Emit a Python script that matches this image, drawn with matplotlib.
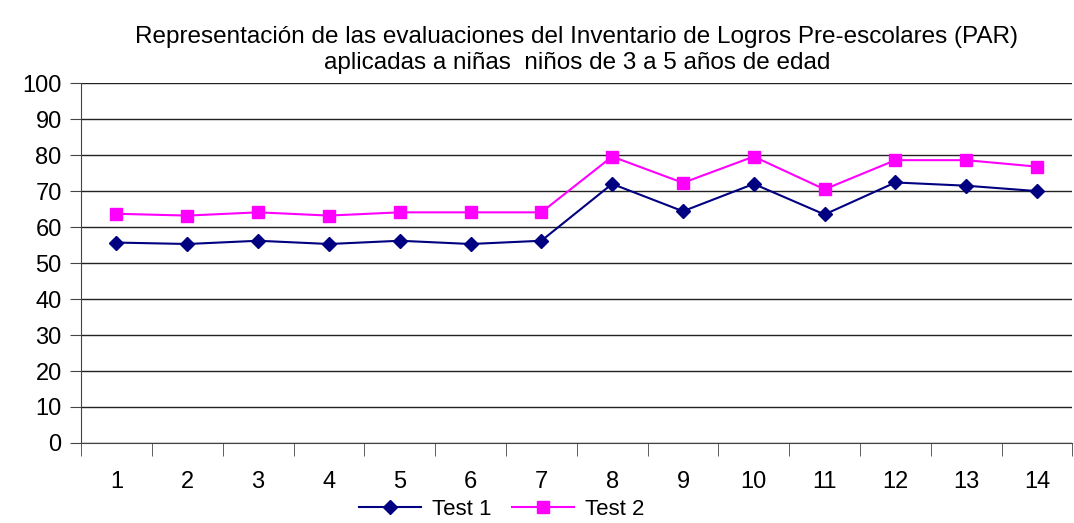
import numpy as np
import matplotlib.pyplot as plt

plt.rcParams['font.family'] = ['Liberation Sans', 'DejaVu Sans']

categories = [str(i) for i in range(1, 15)]
test1 = [55.7, 55.3, 56.2, 55.3, 56.2, 55.3, 56.2, 72.0, 64.4, 72.0, 63.5, 72.4, 71.5, 70.0]
test2 = [63.7, 63.2, 64.1, 63.2, 64.1, 64.1, 64.1, 79.6, 72.3, 79.6, 70.5, 78.6, 78.6, 76.8]

fig = plt.figure(figsize=(10.74, 5.23), dpi=100)
ax = fig.add_axes([0.0755, 0.153, 0.923, 0.688])

x = np.arange(1, len(categories) + 1)
ax.plot(x, test1, color='#000080', marker='D', markersize=7, lw=1.5, label='Test 1')
ax.plot(x, test2, color='#FF00FF', marker='s', markersize=9, lw=1.5, label='Test 2')

ax.set_xlim(0.5, 14.5)
ax.set_ylim(0, 100)
ax.set_yticks(range(0, 101, 10))
ax.yaxis.grid(True, color='#222222', lw=1)
ax.set_axisbelow(True)

ax.set_xticks(x)
ax.set_xticklabels(categories)
ax.set_xticks(np.arange(0.5, 15, 1), minor=True)
ax.tick_params(axis='x', which='major', length=0, pad=20, labelsize=17)
ax.tick_params(axis='x', which='minor', length=9, color='#444444')
ax.tick_params(axis='y', length=8, pad=6, labelsize=17, color='#444444')

for s in ['top', 'right']:
    ax.spines[s].set_visible(False)
ax.spines['left'].set_color('#444444')
ax.spines['bottom'].set_color('#444444')

ax.set_title('Representación de las evaluaciones del Inventario de Logros Pre-escolares (PAR)\n'
             'aplicadas a niñas  niños de 3 a 5 años de edad', fontsize=17.5, pad=10, linespacing=1.25)

fig.legend(loc='lower center', bbox_to_anchor=(0.467, -0.02), ncol=2, frameon=False,
           fontsize=16, handlelength=2.8, columnspacing=0.9, handletextpad=0.5, borderpad=0.1)

fig.savefig('out.png', dpi=100)
